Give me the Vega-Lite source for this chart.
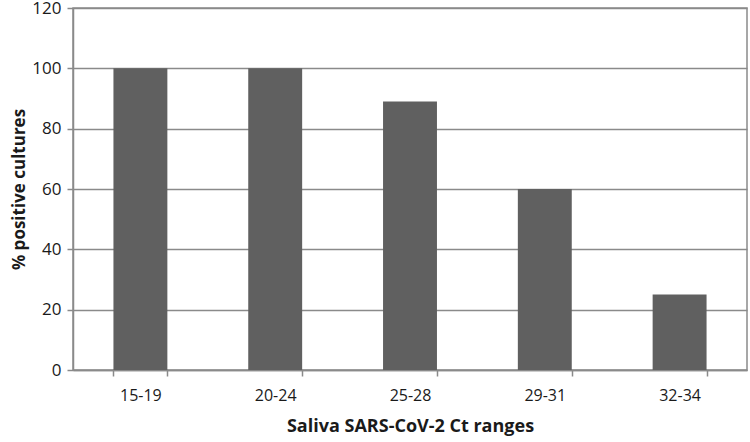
{
  "$schema": "https://vega.github.io/schema/vega-lite/v6.json",
  "autosize": {"type": "none"},
  "width": 674,
  "height": 362,
  "padding": {"left": 73, "top": 8, "right": 3, "bottom": 72},
  "background": "white",
  "data": {"values": [
    {"range": "15-19", "pct": 100},
    {"range": "20-24", "pct": 100},
    {"range": "25-28", "pct": 89},
    {"range": "29-31", "pct": 60},
    {"range": "32-34", "pct": 25}
  ]},
  "config": {
    "view": {"stroke": "#8a8a8a", "strokeWidth": 1.5},
    "font": "Open Sans"
  },
  "mark": {"type": "bar", "color": "#606060"},
  "encoding": {
    "x": {
      "field": "range", "type": "nominal", "sort": null,
      "scale": {"paddingInner": 0.6, "paddingOuter": 0.3},
      "axis": {
        "title": "Saliva SARS-CoV-2 Ct ranges",
        "titleFont": "Open Sans", "titleFontSize": 18, "titleFontWeight": "bold", "titleColor": "#1a1a1a",
        "titlePadding": 14,
        "labelFont": "Open Sans",
        "labelAngle": 0, "labelFontSize": 16, "labelColor": "#1a1a1a", "labelPadding": 11,
        "tickBand": "extent", "tickColor": "#8a8a8a", "tickSize": 6, "tickWidth": 1.5,
        "domainColor": "#8a8a8a", "domainWidth": 1.5, "grid": false
      }
    },
    "y": {
      "field": "pct", "type": "quantitative",
      "scale": {"domain": [0, 120]},
      "axis": {
        "title": "% positive cultures",
        "titleFont": "Open Sans", "titleFontSize": 17, "titleFontWeight": "bold", "titleColor": "#1a1a1a",
        "titlePadding": 3,
        "values": [0, 20, 40, 60, 80, 100, 120],
        "labelFont": "Open Sans",
        "labelFontSize": 17, "labelColor": "#1a1a1a", "labelPadding": 6,
        "tickColor": "#8a8a8a", "tickSize": 6, "tickWidth": 1.5,
        "domainColor": "#8a8a8a", "domainWidth": 1.5,
        "grid": true, "gridColor": "#8a8a8a", "gridWidth": 1.5
      }
    }
  }
}
